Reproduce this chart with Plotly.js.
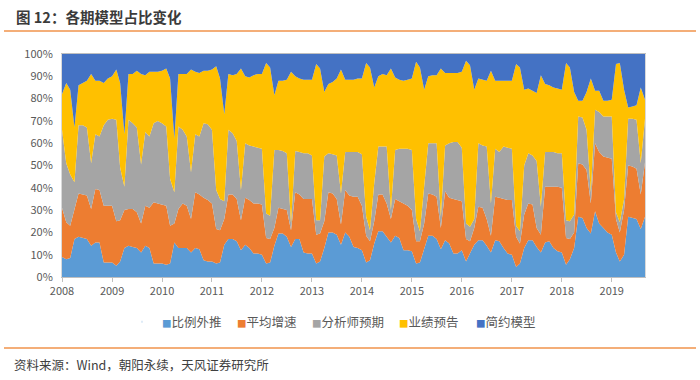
<!DOCTYPE html>
<html><head><meta charset="utf-8">
<script src="https://cdn.plot.ly/plotly-3.0.1.min.js"></script>
<style>body{margin:0;background:#fff}#chart{width:700px;height:380px}</style>
</head><body><div id="chart"></div>
<script>
const seriesNames = ['比例外推','平均增速','分析师预期','业绩预告','简约模型'];
const seriesColors = ['#5B9BD5','#ED7D31','#A5A5A5','#FFC000','#4472C4'];
const startYear = 2008;
const yearLabels = ['2008','2009','2010','2011','2012','2013','2014','2015','2016','2017','2018','2019'];

const bili = [9,8,8.5,17,18,17.5,17,14,15.5,15.5,6.5,6.5,
6.5,5,7,13,14,13.5,13,11,14,13,6,6,
6,5.5,6,15.5,13,13,13,11,13,12.5,7.5,7,
7,6,6.5,14.5,17,17,16,12,14.5,13,10.5,10.5,
10,6,6.5,14,19.5,19.5,18,13.5,17,17,11,10.5,
10.5,6,7,13,20,20,19,14.5,20,18,13.5,13,
12,6.5,7.5,15,20.5,20.5,18,15.5,18.5,17.5,12,12,
11.5,6,6.5,13,18.5,18.5,17,12.5,16.5,15,10.5,10.5,
12,7,11,14.5,16.5,16.5,14,11,16.5,16,13,10.5,
10,4.5,6,13,16.5,16.5,13.5,11,15.5,16,13,11.5,
11,5.5,8,13,27,26.5,22,19.5,29.5,24,22,20,
19,11,7,10,27,26.5,26,21.5,27];

const pingjun = [22,16.5,14.5,13,19.5,19.5,19.5,16.5,24,23.5,25.5,25.5,
25.5,20,18.5,17,16.5,17,16,13,18,18,27.5,27,
26.5,26.5,17,8.5,17.5,20,19,15,25,24.5,28,27.5,
26,15.5,14.5,11.5,20,20,19,13.5,21,21.5,22.5,22.5,
22.5,11.5,10.5,8,11.5,11,12,7.5,21,20,24,24.5,
24.5,13,12.5,12,18,17.5,16,9,19,18.5,22.5,23,
20,12,8.5,10,16.5,16.5,15,10.5,16.5,16.5,21,20,
18.5,10,9.5,11,19,18.5,19,9.5,22,20.5,24.5,24,
22,10,5,7.5,15,14.5,12,7.5,19.5,19.5,22,24,
24.5,13.5,9,15,16.5,16,8.5,8,25,24.5,27.5,29,
29,12,9,7,24,24,26,13.5,30.5,32,32,33.5,
34,15,13,20,23,23,22.5,15.5,24.5];

const fenxi = [35,26.5,23,12.5,30.5,31,30.5,20.5,24.5,24,36,38.5,
39,45.5,23.5,10.5,40,38.5,38,26.5,33,32,35.5,37,
36.5,35.5,21,14,37,33,31,21,26,26,33.5,34,
33,17.5,14,8,29,27.5,26,13.5,24.5,24.5,25.5,25,
25,11,10.5,35,26,26,25.5,3,18.5,19,20.5,20.5,
19.5,6.5,6,29,17.5,17.5,19.5,14,17,19.5,20,20,
23,8.5,5,17,21.5,21.5,25.5,4,22,23.5,24.5,25.5,
27,10,4.5,18,22.5,23,24,5,20.5,24.5,25.5,26,
24,7,6.5,4,28.5,28,32.5,14.5,21.5,20.5,23.5,23.5,
23,5,5.5,22,22.5,22,30,12.5,15.5,15.5,15.5,15,
15.5,8,8,8,21,21,18,5,15,18,18,18.5,
19,3,4.5,5,21,21.5,22,14,19.5];

const yeji = [16,36,38,24.5,18,19,21,40,24,25,19,18.5,
19,22.5,38,23.5,20.5,22,25.5,40.5,25.5,29,23,22,
23.5,26,45,24,23.5,25,28,46,28,28.5,23.5,24,
27,55.5,54,39,25,26,30,54.5,30,30.5,32,33,
33.5,67.5,66.5,24.5,31,31.5,33,68,33.5,33,33,33,
34,70,68,29,31,32.5,34.5,55.5,32.5,32.5,32.5,33,
34,69,73,43,31.5,32.5,32,63.5,32.5,31,30.5,31,
32,70.5,73.5,42,30,30.5,30.5,66.5,32.5,31.5,31,31,
34,73,72.5,58,29,29.5,29.5,59.5,30.5,32,29.5,30,
30.5,72.5,73.5,34,29,29,30.5,59,30.5,30,29,29,
28.5,70.5,69,55,7,7.5,17,51,8.5,9.5,7,7,
7.5,66.5,71.5,49,5,5.5,6.5,34,8.5];

const jianyue = [18,13,16,33,14,13,12,9,12,12,13,11,
10,7,13,36,9,9,7.5,9,9.5,8,8,8,
7.5,6.5,11,38,9,9,9,7,8,8.5,7.5,7.5,
7,5.5,11,27,9,9.5,9,6.5,10,10.5,9.5,9,
9,4,6,18.5,12,12,11.5,8,10,11,11.5,11.5,
11.5,4.5,6.5,17,13.5,12.5,11,7,11.5,11.5,11.5,11,
11,4,6,15,10,9,9.5,6.5,10.5,11.5,12,11.5,
11,3.5,6,16,10,9.5,9.5,6.5,8.5,8.5,8.5,8.5,
8,3,5,16,11,11.5,12,7.5,12,12,12,12,
12,4.5,6,16,15.5,16.5,17.5,9.5,13.5,14,15,15.5,
16,4,6,17,21,21,17,11,16.5,16.5,21,21,
20.5,4.5,4,16,24,23.5,23,15,20.5];

const seriesValues = [bili, pingjun, fenxi, yeji, jianyue];
const months = bili.map((_, k) => (startYear + Math.floor(k / 12)) + '-' + String(k % 12 + 1).padStart(2, '0') + '-01');
const tickVals = yearLabels.map(y => y + '-01-01');

const font = 'Noto Sans CJK SC, Noto Sans, sans-serif';
const traces = [];
seriesValues.forEach((vals, s) => {
  traces.push({
    type: 'scatter', mode: 'lines', x: months, y: vals,
    stackgroup: 'one', groupnorm: s === 0 ? 'percent' : undefined,
    line: {width: 0, color: seriesColors[s]}, fillcolor: seriesColors[s],
    showlegend: false, hoverinfo: 'skip'
  });
});
// legend entries: coloured square glyph + name (Excel-like compact legend)
const legendWidths = [30, 30, 42, 32, 60];
seriesNames.forEach((n, s) => {
  traces.push({
    type: 'scatter', mode: 'markers', x: [null], y: [null],
    name: '<span style="color:' + seriesColors[s] + ';font-size:9.5px">■</span>' + n,
    marker: {symbol: 'square', size: 1, color: seriesColors[s], opacity: 0},
    legendwidth: legendWidths[s], showlegend: true
  });
});

const W = 583, H = 223, L = 62, T = 54;
const px = x => (x - L) / W;
const py = y => (T + H - y) / H;

const layout = {
  width: 700, height: 380,
  margin: {l: L, r: 700 - L - W, t: T, b: 380 - T - H, pad: 0},
  paper_bgcolor: '#fff', plot_bgcolor: '#fff',
  font: {family: font, color: '#595959', size: 11},
  xaxis: {
    type: 'date', range: [months[0], months[months.length - 1]],
    tickvals: tickVals, ticktext: yearLabels,
    ticks: 'outside', ticklen: 4, tickcolor: '#bfbfbf',
    showline: true, linecolor: '#bfbfbf', mirror: true,
    showgrid: false, zeroline: false,
    tickfont: {size: 11, color: '#595959', family: font}
  },
  yaxis: {
    range: [0, 100], dtick: 10, ticksuffix: '%',
    showline: true, linecolor: '#d9d9d9', mirror: true,
    showgrid: false, zeroline: false, ticks: '', ticklabelstandoff: 6,
    tickfont: {size: 11, color: '#595959', family: font}
  },
  showlegend: true,
  legend: {
    orientation: 'h', traceorder: 'normal',
    x: px(122), xanchor: 'left', y: py(322), yanchor: 'middle',
    font: {size: 12.5, color: '#595959', family: font}, itemwidth: 30,
    bgcolor: 'rgba(0,0,0,0)'
  },
  annotations: [
    {xref: 'paper', yref: 'paper', x: px(14), y: py(17), xanchor: 'left', yanchor: 'middle',
     text: '<b>图 12：各期模型占比变化</b>', showarrow: false,
     font: {size: 14.5, color: '#3b3b3b', family: font}},
    {xref: 'paper', yref: 'paper', x: px(12), y: py(364), xanchor: 'left', yanchor: 'middle',
     text: '资料来源：Wind，朝阳永续，天风证券研究所', showarrow: false,
     font: {size: 12.5, color: '#404040', family: font}}
  ],
  shapes: [
    {type: 'line', xref: 'paper', yref: 'paper', x0: px(4), x1: px(696), y0: py(31), y1: py(31),
     line: {color: '#F4AE78', width: 2}},
    {type: 'line', xref: 'paper', yref: 'paper', x0: px(4), x1: px(696), y0: py(348), y1: py(348),
     line: {color: '#F4AE78', width: 2}}
  ]
};

Plotly.newPlot('chart', traces, layout, {staticPlot: true, displayModeBar: false});
</script></body></html>
